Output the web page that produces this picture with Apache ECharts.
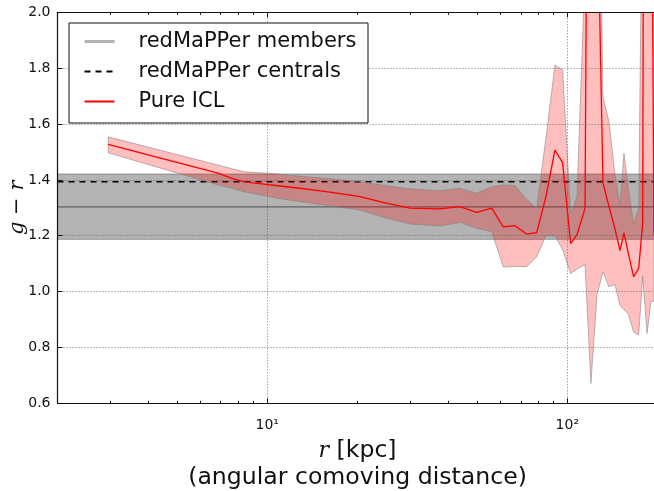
<!DOCTYPE html>
<html><head><meta charset="utf-8">
<script src="https://cdn.jsdelivr.net/npm/echarts@6/dist/echarts.min.js"></script>
<style>html,body{margin:0;padding:0;background:#fff}#c{width:654px;height:491px}</style>
</head><body><div id="c"></div>
<script>
// radius [kpc] of each radial bin
const radius = [2.95, 6.85, 7.63, 8.41, 9.90, 10.85, 12.85, 16.18, 20.37, 24.68, 29.91, 37.65, 43.88, 49.89,
  55.98, 61.2, 66.95, 73.2, 79.07, 84.9, 90.99, 96.5, 102.6, 107.7, 114.6, 119.9, 125.6, 131.5, 137.7,
  144.2, 149.9, 154.5, 159.9, 166.4, 173.0, 178.4, 184.4, 190.1, 194.5];
// Pure ICL g-r colour and its 1-sigma envelope
const iclColour = [1.527, 1.424, 1.405, 1.393, 1.384, 1.379, 1.370, 1.356, 1.340, 1.318, 1.299, 1.296, 1.304, 1.284,
  1.299, 1.232, 1.236, 1.206, 1.211, 1.340, 1.507, 1.461, 1.172, 1.203, 1.298, 5.0, 2.5, 1.390, 1.304,
  1.225, 1.147, 1.210, 1.135, 1.053, 1.083, 1.245, 8.0, 3.0, 1.2];
const iclUpper = [1.554, 1.453, 1.440, 1.429, 1.424, 1.421, 1.413, 1.404, 1.393, 1.380, 1.368, 1.361, 1.370, 1.352,
  1.375, 1.382, 1.380, 1.330, 1.298, 1.550, 1.811, 1.793, 1.280, 1.339, 2.150, 7.0, 3.1, 1.698, 1.608,
  1.420, 1.310, 1.495, 1.370, 1.244, 1.300, 2.600, 12.0, 6.0, 3.0];
const iclLower = [1.497, 1.382, 1.370, 1.357, 1.342, 1.334, 1.322, 1.307, 1.292, 1.264, 1.242, 1.235, 1.247, 1.227,
  1.215, 1.088, 1.090, 1.089, 1.125, 1.200, 1.200, 1.150, 1.065, 1.080, 1.097, 0.671, 0.988, 1.071, 1.017,
  1.025, 0.950, 0.935, 0.920, 0.855, 0.844, 1.055, 0.850, 0.965, 0.965];
// redMaPPer reference colours
const membersMean = 1.303, membersLow = 1.187, membersHigh = 1.421;
const centralsMean = 1.393;
const xRange = [2, 200];
const xMajorTicks = [10, 100];
const xMinorTicks = [3, 4, 5, 6, 7, 8, 9, 20, 30, 40, 50, 60, 70, 80, 90];
const legendNames = ['redMaPPer members', 'redMaPPer centrals', 'Pure ICL'];

const FONT = 'DejaVu Sans';
const chart = echarts.init(document.getElementById('c'), null, {renderer: 'canvas'});
const pair = (ys) => radius.map((r, i) => [r, ys[i]]);
const dotted = {color: '#555', width: 0.8, type: [1, 2]};
const spine = {show: true, onZero: false, lineStyle: {color: '#111', width: 1.2}};

function xAxisDef(pos, major, withLabels) {
  return {
    type: 'log', logBase: 10, position: pos, min: xRange[0], max: xRange[1], z: 6,
    axisLine: major ? spine : {show: false},
    axisTick: {show: true, inside: true, length: major ? 5 : 2.5, customValues: major ? xMajorTicks : xMinorTicks,
      lineStyle: {color: '#111', width: 1}},
    axisLabel: withLabels ? {show: true, customValues: xMajorTicks, fontFamily: FONT, fontSize: 14, color: '#111', margin: 15,
      formatter: v => '10' + (Math.round(Math.log10(v)) === 1 ? '\u00b9' : '\u00b2')} : {show: false},
    splitLine: withLabels ? {show: true, lineStyle: dotted} : {show: false},
    minorTick: {show: false},
    name: withLabels ? '{i|r} [kpc]\n(angular comoving distance)' : '',
    nameLocation: 'middle', nameGap: 34, nameMoveOverlap: false,
    nameTextStyle: {fontFamily: FONT, fontSize: 23.6, color: '#111', lineHeight: 27,
      rich: {i: {fontFamily: 'DejaVu Serif', fontStyle: 'italic', fontSize: 22, color: '#111'}}}
  };
}

function bandItem(params, api) {
  if (params.dataIndex !== 0) return null;
  const pts = [];
  for (let i = 0; i < radius.length; i++) pts.push(api.coord([radius[i], iclUpper[i]]));
  for (let i = radius.length - 1; i >= 0; i--) pts.push(api.coord([radius[i], iclLower[i]]));
  const cs = params.coordSys;
  return {
    type: 'group',
    clipPath: {type: 'rect', shape: {x: cs.x, y: cs.y, width: cs.width, height: cs.height}},
    children: [{type: 'polygon', shape: {points: pts},
      style: {fill: 'rgba(255,0,0,0.25)', stroke: 'rgba(128,128,128,0.55)', lineWidth: 1}}]
  };
}

const option = {
  animation: false,
  backgroundColor: '#fff',
  grid: {left: 57.5, top: 12.3, right: -3.6, bottom: 87.7, containLabel: false, outerBoundsMode: 'none'},
  xAxis: [xAxisDef('bottom', true, true), xAxisDef('bottom', false, false), xAxisDef('top', true, false), xAxisDef('top', false, false)],
  yAxis: {
    type: 'value', min: 0.6, max: 2.0, interval: 0.2, z: 6,
    axisLine: spine,
    axisTick: {show: true, inside: true, length: 5, lineStyle: {color: '#111', width: 1}},
    axisLabel: {fontFamily: FONT, fontSize: 14, color: '#111', margin: 7, formatter: v => v.toFixed(1)},
    splitLine: {show: true, lineStyle: dotted},
    name: '{i|g} \u2212 {i|r}', nameLocation: 'middle', nameGap: 29, nameRotate: 90, nameMoveOverlap: false,
    nameTextStyle: {fontFamily: 'DejaVu Serif', fontSize: 21, color: '#111',
      rich: {i: {fontFamily: 'DejaVu Serif', fontStyle: 'italic', fontSize: 21, color: '#111'}}}
  },
  legend: {
    orient: 'vertical', left: 83, top: 31, itemWidth: 30, itemHeight: 14, itemGap: 9, padding: 0, z: 11,
    selectedMode: false,
    itemStyle: {opacity: 0},
    textStyle: {fontFamily: FONT, fontSize: 21, color: '#111', padding: [0, 0, 0, 19]},
    data: [
      {name: legendNames[0], lineStyle: {color: '#b2b2b2', width: 3, opacity: 1}},
      {name: legendNames[1]},
      {name: legendNames[2]}
    ]
  },
  graphic: [{type: 'rect', z: 10, shape: {x: 69, y: 23, width: 299, height: 100},
    style: {fill: '#fff', stroke: '#111', lineWidth: 1}}],
  series: [
    {type: 'line', name: 'membersBand', xAxisIndex: 0, data: [[xRange[0], membersMean], [xRange[1], membersMean]],
      symbol: 'none', lineStyle: {opacity: 0}, z: 1, silent: true,
      markArea: {silent: true, itemStyle: {color: 'rgba(128,128,128,0.6)', borderColor: 'rgba(80,80,80,0.5)', borderWidth: 1},
        data: [[{yAxis: membersLow}, {yAxis: membersHigh}]]}},
    {type: 'line', name: legendNames[0], xAxisIndex: 0, data: [[xRange[0], membersMean], [xRange[1], membersMean]],
      symbol: 'none', lineStyle: {color: 'rgba(70,70,70,0.75)', width: 1.3}, z: 2},
    {type: 'line', name: legendNames[1], xAxisIndex: 0, data: [[xRange[0], centralsMean], [xRange[1], centralsMean]],
      symbol: 'none', lineStyle: {color: '#000', width: 1.5, type: [6, 5]}, z: 2},
    {type: 'custom', name: 'iclBand', xAxisIndex: 0, renderItem: bandItem, z: 3, silent: true,
      data: radius.map((r, i) => [r, iclUpper[i], iclLower[i]]), encode: {x: 0, y: [1, 2]}},
    {type: 'line', name: legendNames[2], xAxisIndex: 0, data: pair(iclColour), symbol: 'none',
      lineStyle: {color: '#ff0000', width: 1.3}, z: 4}
  ]
};
chart.setOption(option);
</script></body></html>
